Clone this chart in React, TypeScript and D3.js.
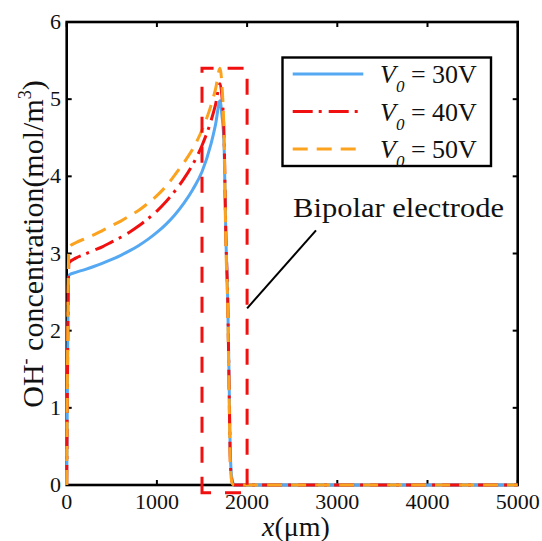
import React from "react";
import * as d3 from "d3";

const xGrid = [0, 25, 100, 200, 300, 400, 500, 600, 700, 800, 900, 1000, 1100, 1200, 1300, 1400, 1500, 1600, 1650, 1700, 1720, 1745, 1765, 1785, 1800, 1812, 1825, 1840, 1860, 2000, 5000];
const v30 = [0, 2.72, 2.755, 2.792, 2.832, 2.876, 2.924, 2.977, 3.037, 3.105, 3.183, 3.273, 3.378, 3.503, 3.653, 3.833, 4.06, 4.42, 4.67, 4.98, 4.8, 4.4, 3.2, 2.4, 1.4, 0.5, 0.15, 0.04, 0, 0, 0];
const v40 = [0, 2.88, 2.94, 2.99, 3.04, 3.09, 3.15, 3.21, 3.28, 3.36, 3.45, 3.55, 3.67, 3.81, 3.97, 4.16, 4.4, 4.72, 4.93, 5.2, 5.05, 4.5, 3.2, 2.4, 1.3, 0.4, 0.1, 0.02, 0, 0, 0];
const v50 = [0, 3.08, 3.14, 3.19, 3.24, 3.3, 3.36, 3.42, 3.49, 3.56, 3.65, 3.75, 3.87, 4.02, 4.18, 4.36, 4.6, 4.92, 5.13, 5.4, 5.2, 4.5, 3.1, 2.3, 1.2, 0.35, 0.08, 0.01, 0, 0, 0];
const seriesLabels = ["30V", "40V", "50V"];
const xTicks = [0, 1000, 2000, 3000, 4000, 5000];
const yTicks = [0, 1, 2, 3, 4, 5, 6];
// electrode box in data units: x0, x1, y0, y1
const boxX = [1500, 2000];
const boxY = [-0.1, 5.4];
const leader = [[2764, 3.3], [2000, 2.29]];
const annotation = "Bipolar electrode";
const annotationPos = [2510, 3.47];

const FONT = "'Liberation Serif', 'Times New Roman', serif";

export default function App() {
  const W = 542, H = 541;
  const L = 66.7, R = 517.7, T = 22, B = 485;
  const x = d3.scaleLinear().domain([0, 5000]).range([L, R]);
  const y = d3.scaleLinear().domain([0, 6]).range([B, T]);
  const line = d3
    .line<number>()
    .x((_, i) => x(xGrid[i]))
    .y((d) => y(d))
    .curve(d3.curveMonotoneX);

  const styles = [
    { color: "#55a8f2", dash: "none" },
    { color: "#f01010", dash: "20,6,3,7" },
    { color: "#fba21e", dash: "15,9" },
  ];
  const data = [v30, v40, v50];

  const boxPath = `M${x(boxX[0])},${y(boxY[0])} L${x(boxX[0])},${y(boxY[1])} L${x(boxX[1])},${y(boxY[1])} L${x(boxX[1])},${y(boxY[0])} Z`;

  const tickLen = 5;
  return (
    <svg width={W} height={H} style={{ position: "absolute", left: 0, top: 0, background: "#fff" }} fontFamily={FONT}>
      <rect x={0} y={0} width={W} height={H} fill="#fff" />
      {xTicks.map((t) => (
        <g key={"xt" + t}>
          <line x1={x(t)} x2={x(t)} y1={B} y2={B - tickLen} stroke="#000" strokeWidth={2} />
          <line x1={x(t)} x2={x(t)} y1={T} y2={T + tickLen} stroke="#000" strokeWidth={2} />
          <text x={x(t)} y={509} fontSize={22} textAnchor="middle" fill="#111">{t}</text>
        </g>
      ))}
      {yTicks.map((t) => (
        <g key={"yt" + t}>
          <line x1={L} x2={L + tickLen} y1={y(t)} y2={y(t)} stroke="#000" strokeWidth={2} />
          <line x1={R} x2={R - tickLen} y1={y(t)} y2={y(t)} stroke="#000" strokeWidth={2} />
          <text x={61} y={y(t) + 7} fontSize={22} textAnchor="end" fill="#111">{t}</text>
        </g>
      ))}
      <rect x={L} y={T} width={R - L} height={B - T} fill="none" stroke="#000" strokeWidth={2.6} />
      {data.map((d, i) => (
        <path key={"s" + i} d={line(d) || ""} fill="none" stroke={styles[i].color} strokeWidth={3} strokeDasharray={styles[i].dash} />
      ))}
      <path d={boxPath} fill="none" stroke="#f01010" strokeWidth={3} strokeDasharray="16,14" />
      <line x1={x(leader[0][0])} y1={y(leader[0][1])} x2={x(leader[1][0])} y2={y(leader[1][1])} stroke="#000" strokeWidth={2} />
      <text x={x(annotationPos[0])} y={y(annotationPos[1])} fontSize={27} textLength={211} lengthAdjust="spacingAndGlyphs" fill="#111">{annotation}</text>
      <rect x={282.5} y={57.5} width={208.5} height={108.5} fill="#fff" stroke="#000" strokeWidth={2.4} />
      {seriesLabels.map((s, i) => {
        const ly = 74 + i * 37.5;
        return (
          <g key={"lg" + i}>
            <line x1={292.7} x2={363.3} y1={ly} y2={ly} stroke={styles[i].color} strokeWidth={3} strokeDasharray={styles[i].dash} />
            <text x={380} y={ly + 9} fontSize={26} fill="#111">
              <tspan fontStyle="italic">V</tspan>
              <tspan fontStyle="italic" fontSize={17} dy={9}>0</tspan>
              <tspan dy={-9}>{" = " + s}</tspan>
            </text>
          </g>
        );
      })}
      <text x={296} y={536} fontSize={28} textAnchor="middle" fill="#111">
        <tspan fontStyle="italic">x</tspan>
        <tspan>(μm)</tspan>
      </text>
      <text transform={`translate(43,${244}) rotate(-90)`} fontSize={30} textAnchor="middle" fill="#111">
        <tspan>OH</tspan>
        <tspan fontSize={18} dy={-12}>-</tspan>
        <tspan dy={12}>{" concentration(mol/m"}</tspan>
        <tspan fontSize={18} dy={-12}>3</tspan>
        <tspan dy={12}>)</tspan>
      </text>
    </svg>
  );
}
